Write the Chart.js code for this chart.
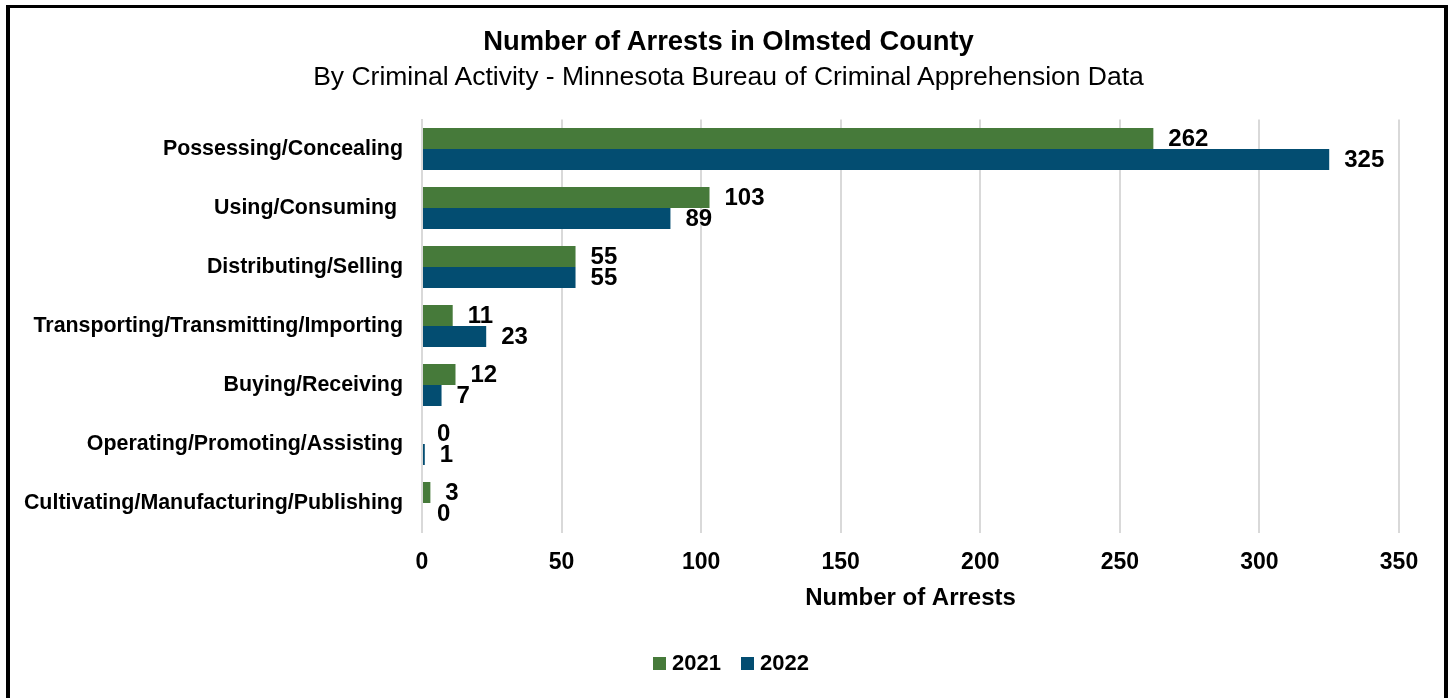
<!DOCTYPE html>
<html>
<head>
<meta charset="utf-8">
<script src="https://cdn.jsdelivr.net/npm/chart.js@4.4.1/dist/chart.umd.min.js"></script>
<style>
  html, body { margin: 0; padding: 0; background: #fff; }
  body { width: 1452px; height: 698px; overflow: hidden; position: relative;
         font-family: "Liberation Sans", Arial, sans-serif; color: #000; }
  #frame { position: absolute; left: 6px; top: 5px; width: 1434px; height: 720px;
           border: 4px solid #000; border-top-width: 3px; border-bottom: none; }
  #chartBox { position: absolute; left: 0; top: 0; width: 1452px; height: 698px; }
  .heading { position: absolute; left: 0; width: 1457px; text-align: center; white-space: nowrap; }
  #title { top: 25.8px; font-size: 27.4px; line-height: 30px; font-weight: bold; }
  #subtitle { top: 61px; font-size: 26.5px; line-height: 30px; }
  #legend { position: absolute; left: 653px; top: 650.4px; font-size: 22px; line-height: 26px;
            font-weight: bold; white-space: nowrap; }
  #legend .item { display: inline-block; margin-right: 20px; }
  #legend .swatch { display: inline-block; width: 13px; height: 13px; margin-right: 6px; vertical-align: baseline; }
</style>
</head>
<body>
<div id="frame"></div>
<div id="chartBox"><canvas id="chart" width="1452" height="698"></canvas></div>
<div id="title" class="heading">Number of Arrests in Olmsted County</div>
<div id="subtitle" class="heading">By Criminal Activity - Minnesota Bureau of Criminal Apprehension Data</div>
<div id="legend"></div>
<script>
// Arrest counts by criminal activity, Olmsted County
const categories = [
  'Possessing/Concealing',
  'Using/Consuming ',
  'Distributing/Selling',
  'Transporting/Transmitting/Importing',
  'Buying/Receiving',
  'Operating/Promoting/Assisting',
  'Cultivating/Manufacturing/Publishing'
];
const arrests2021 = [262, 103, 55, 11, 12, 0, 3];
const arrests2022 = [325, 89, 55, 23, 7, 1, 0];
const seriesNames = ['2021', '2022'];
const seriesColors = ['#467A3A', '#034D71'];
const xTickStep = 50;
const xMax = 350;

const FONT = '"Liberation Sans", Arial, sans-serif';

// Bold value written just past the end of each bar
const valueLabels = {
  id: 'valueLabels',
  afterDatasetsDraw(chart) {
    const ctx = chart.ctx;
    ctx.save();
    ctx.font = 'bold 24px ' + FONT;
    ctx.fillStyle = '#000';
    ctx.textAlign = 'left';
    ctx.textBaseline = 'middle';
    chart.data.datasets.forEach((ds, i) => {
      chart.getDatasetMeta(i).data.forEach((bar, j) => {
        ctx.fillText(String(ds.data[j]), bar.x + 15, bar.y + 1);
      });
    });
    ctx.restore();
  }
};

const chart = new Chart(document.getElementById('chart'), {
  type: 'bar',
  data: {
    labels: categories,
    datasets: [
      { label: seriesNames[0], data: arrests2021, backgroundColor: seriesColors[0] },
      { label: seriesNames[1], data: arrests2022, backgroundColor: seriesColors[1] }
    ]
  },
  options: {
    indexAxis: 'y',
    responsive: false,
    animation: false,
    devicePixelRatio: 1,
    categoryPercentage: 0.712,
    barPercentage: 1.0,
    layout: { padding: { left: 0, right: 53, top: 119.5, bottom: 85.5 } },
    plugins: {
      legend: { display: false },
      title: { display: false },
      tooltip: { enabled: false }
    },
    scales: {
      y: {
        type: 'category',
        grid: { display: false, drawTicks: false },
        border: { display: true, color: '#d9d9d9', width: 2 },
        ticks: { color: '#000', padding: 19, font: { family: FONT, size: 21.4, weight: 'bold' } },
        afterFit(scale) { scale.width = 422; }
      },
      x: {
        type: 'linear',
        min: 0,
        max: xMax,
        grid: { display: true, color: '#d9d9d9', lineWidth: 2, drawTicks: false },
        border: { display: false },
        ticks: { stepSize: xTickStep, color: '#000', padding: 16,
                 font: { family: FONT, size: 23, weight: 'bold' } },
        title: { display: true, text: 'Number of Arrests', color: '#000',
                 font: { family: FONT, size: 24, weight: 'bold' },
                 padding: { top: 0, bottom: 0 } },
        afterFit(scale) { scale.height = 80; }
      }
    }
  },
  plugins: [valueLabels]
});

// Series key under the axis title
const legend = document.getElementById('legend');
chart.data.datasets.forEach(ds => {
  const item = document.createElement('span');
  item.className = 'item';
  const sw = document.createElement('span');
  sw.className = 'swatch';
  sw.style.background = ds.backgroundColor;
  item.appendChild(sw);
  item.appendChild(document.createTextNode(ds.label));
  legend.appendChild(item);
});
</script>
</body>
</html>
